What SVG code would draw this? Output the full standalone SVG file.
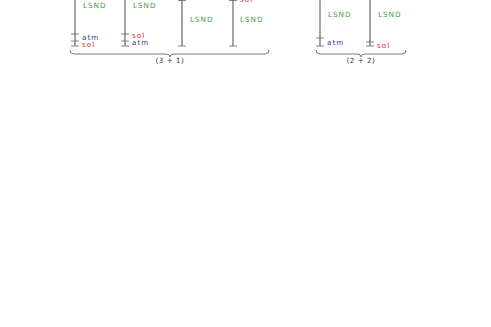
<svg xmlns="http://www.w3.org/2000/svg" width="491" height="327" viewBox="0 0 491 327">
<style>
.ln{stroke:#666;stroke-width:1.2;fill:none}
.tk{stroke:#666;stroke-width:0.8;fill:none}
.br{stroke:#555;stroke-width:0.8;fill:none}
text{font-family:"DejaVu Sans",sans-serif;font-size:7.2px;letter-spacing:1px}
.g{fill:#3f9a3f}
.b{fill:#3a3aa0}
.r{fill:#e02828}
.k{fill:#333;letter-spacing:0.5px}
</style>
<rect width="491" height="327" fill="#fff"/>
<g id="col1">
<line class="ln" x1="75" y1="-2" x2="75" y2="46"/>
<line class="tk" x1="71" y1="34" x2="79" y2="34"/>
<line class="tk" x1="71" y1="41" x2="79" y2="41"/>
<line class="tk" x1="71" y1="46" x2="79" y2="46"/>
<text class="g" x="83" y="8">LSND</text>
<text class="b" x="82" y="39.5">atm</text>
<text class="r" x="82" y="47">sol</text>
</g>
<g id="col2">
<line class="ln" x1="125" y1="-2" x2="125" y2="46"/>
<line class="tk" x1="121" y1="34" x2="129" y2="34"/>
<line class="tk" x1="121" y1="41" x2="129" y2="41"/>
<line class="tk" x1="121" y1="46" x2="129" y2="46"/>
<text class="g" x="133" y="8">LSND</text>
<text class="r" x="132" y="37.5">sol</text>
<text class="b" x="132" y="45">atm</text>
</g>
<g id="col3">
<line class="ln" x1="182" y1="0" x2="182" y2="46"/>
<line class="tk" x1="178" y1="0.5" x2="186" y2="0.5"/>
<line class="tk" x1="178" y1="46" x2="186" y2="46"/>
<text class="g" x="190" y="22">LSND</text>
</g>
<g id="col4">
<line class="ln" x1="233" y1="0" x2="233" y2="46"/>
<line class="tk" x1="229" y1="0.5" x2="237" y2="0.5"/>
<line class="tk" x1="229" y1="46" x2="237" y2="46"/>
<text class="r" x="240" y="2">sol</text>
<text class="g" x="240" y="22">LSND</text>
</g>
<g id="col5">
<line class="ln" x1="320" y1="-2" x2="320" y2="46"/>
<line class="tk" x1="316" y1="38" x2="324" y2="38"/>
<line class="tk" x1="316" y1="46" x2="324" y2="46"/>
<text class="g" x="328" y="17">LSND</text>
<text class="b" x="327" y="45">atm</text>
</g>
<g id="col6">
<line class="ln" x1="370" y1="-2" x2="370" y2="46"/>
<line class="tk" x1="366" y1="42" x2="374" y2="42"/>
<line class="tk" x1="366" y1="46" x2="374" y2="46"/>
<text class="g" x="378" y="17">LSND</text>
<text class="r" x="377" y="48">sol</text>
</g>
<g id="connectors">
<path class="br" d="M70,50 Q70,54 74,54 L166,54 Q170,54 170,57 Q170,54 174,54 L265,54 Q269,54 269,50"/>
<path class="br" d="M316,50 Q316,54 320,54 L357,54 Q361,54 361,57 Q361,54 365,54 L402,54 Q406,54 406,50"/>
</g>
<g id="labels">
<text class="k" x="170" y="63" text-anchor="middle">(3 + 1)</text>
<text class="k" x="361" y="63" text-anchor="middle">(2 + 2)</text>
</g>
</svg>
